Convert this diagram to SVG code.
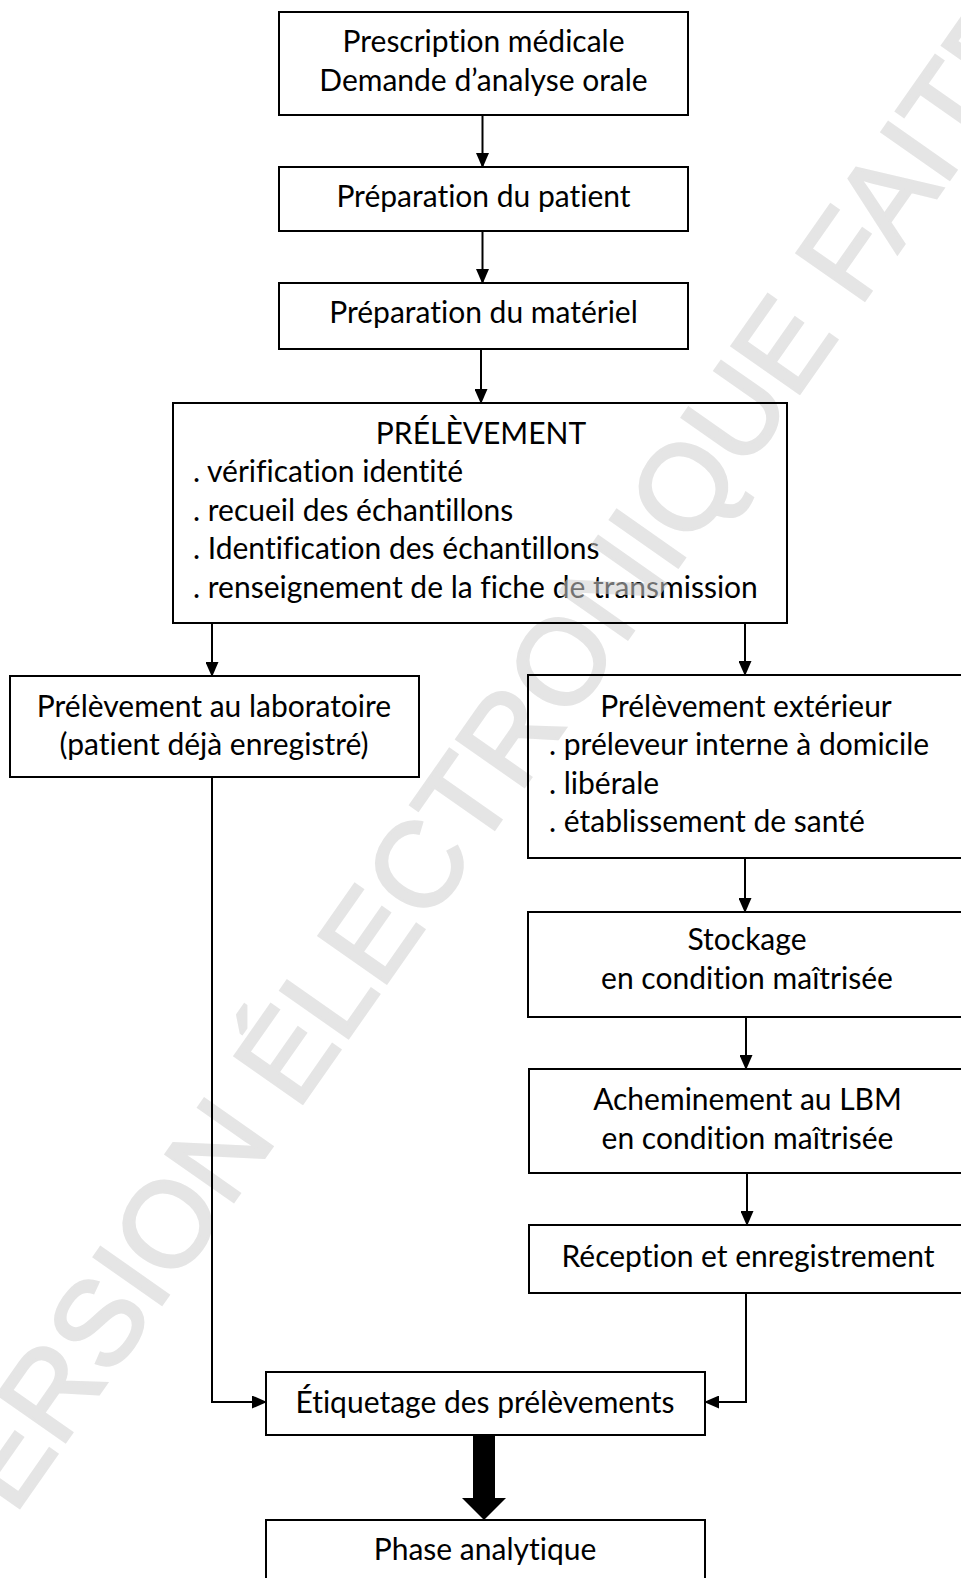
<svg xmlns="http://www.w3.org/2000/svg" xmlns:xlink="http://www.w3.org/1999/xlink" width="961" height="1578" viewBox="0 0 961 1578">
<style>
.box{fill:none;stroke:#000;stroke-width:2}
.t{font-family:Lato,"Liberation Sans",sans-serif;font-size:30px;fill:#000;font-variant-ligatures:none;font-feature-settings:"liga" 0,"dlig" 0}
.c{text-anchor:middle}
.con{fill:none;stroke:#000;stroke-width:2}
.wm{font-family:"Liberation Sans",Arial,sans-serif;font-size:120px;fill:#d0d0d0;stroke:#d0d0d0;stroke-width:3}
</style>
<defs>
<marker id="arr" viewBox="0 0 15 13" refX="13" refY="6.5" markerWidth="15" markerHeight="13" markerUnits="userSpaceOnUse" orient="auto">
<path d="M0,0 L15,6.5 L0,13 z" fill="#000"/>
</marker>
<mask id="wmMask" maskUnits="userSpaceOnUse" x="0" y="0" width="961" height="1578">
<rect width="961" height="1578" fill="#fff"/>
<use href="#r1" xlink:href="#r1"/><use href="#r2" xlink:href="#r2"/><use href="#r3" xlink:href="#r3"/>
<use href="#r4" xlink:href="#r4"/><use href="#r5" xlink:href="#r5"/><use href="#r6" xlink:href="#r6"/>
<use href="#r7" xlink:href="#r7"/><use href="#r8" xlink:href="#r8"/><use href="#r9" xlink:href="#r9"/>
<use href="#r10" xlink:href="#r10"/><use href="#r11" xlink:href="#r11"/>
<use href="#connectors" xlink:href="#connectors"/>
</mask>
</defs>
<rect width="961" height="1578" fill="#fff"/>
<g id="n1"><rect id="r1" class="box" x="279" y="12" width="409" height="103"/>
<text class="t c" x="483.5" y="52">Prescription médicale</text>
<text class="t c" x="483.5" y="90.5">Demande d’analyse orale</text></g>
<g id="n2"><rect id="r2" class="box" x="279" y="167" width="409" height="64"/>
<text class="t c" x="483.5" y="207">Préparation du patient</text></g>
<g id="n3"><rect id="r3" class="box" x="279" y="283" width="409" height="66"/>
<text class="t c" x="483.5" y="323">Préparation du matériel</text></g>
<g id="n4"><rect id="r4" class="box" x="173" y="403" width="614" height="220"/>
<text class="t c" x="481" y="443.5">PRÉLÈVEMENT</text>
<text class="t" x="193" y="482">. vérification identité</text>
<text class="t" x="193" y="520.5">. recueil des échantillons</text>
<text class="t" x="193" y="559">. Identification des échantillons</text>
<text class="t" x="193" y="597.5">. renseignement de la fiche de transmission</text></g>
<g id="n5"><rect id="r5" class="box" x="10" y="676" width="409" height="101"/>
<text class="t c" x="214" y="716.5">Prélèvement au laboratoire</text>
<text class="t c" x="214" y="755">(patient déjà enregistré)</text></g>
<g id="n6"><rect id="r6" class="box" x="528" y="675" width="445" height="183"/>
<text class="t c" x="746" y="716.5">Prélèvement extérieur</text>
<text class="t" x="549" y="755">. préleveur interne à domicile</text>
<text class="t" x="549" y="793.5">. libérale</text>
<text class="t" x="549" y="832">. établissement de santé</text></g>
<g id="n7"><rect id="r7" class="box" x="528" y="912" width="445" height="105"/>
<text class="t c" x="747" y="950">Stockage</text>
<text class="t c" x="747" y="989">en condition maîtrisée</text></g>
<g id="n8"><rect id="r8" class="box" x="529" y="1069" width="444" height="104"/>
<text class="t c" x="747.5" y="1110">Acheminement au LBM</text>
<text class="t c" x="747.5" y="1148.5">en condition maîtrisée</text></g>
<g id="n9"><rect id="r9" class="box" x="529" y="1225" width="444" height="68"/>
<text class="t c" x="748" y="1266.5">Réception et enregistrement</text></g>
<g id="n10"><rect id="r10" class="box" x="266" y="1372" width="439" height="63"/>
<text class="t c" x="485" y="1413">Étiquetage des prélèvements</text></g>
<g id="n11"><rect id="r11" class="box" x="266" y="1520" width="439" height="80"/>
<text class="t c" x="485" y="1560">Phase analytique</text></g>
<g id="connectors">
<path class="con" d="M482.5,115 V166" marker-end="url(#arr)"/>
<path class="con" d="M482.5,231 V282" marker-end="url(#arr)"/>
<path class="con" d="M481,349 V402" marker-end="url(#arr)"/>
<path class="con" d="M212,623 V675" marker-end="url(#arr)"/>
<path class="con" d="M745,623 V674" marker-end="url(#arr)"/>
<path class="con" d="M745,858 V911" marker-end="url(#arr)"/>
<path class="con" d="M746,1017 V1068" marker-end="url(#arr)"/>
<path class="con" d="M747,1173 V1224" marker-end="url(#arr)"/>
<path class="con" d="M212,777 V1402 H265" marker-end="url(#arr)"/>
<path class="con" d="M746,1293 V1402 H706" marker-end="url(#arr)"/>
<path d="M473,1436 H495 V1498 H506 L484,1520 L462,1498 H473 Z" fill="#000"/>
</g>
<g id="watermark" opacity="0.55" mask="url(#wmMask)">
<text class="wm" transform="translate(-32,1581) rotate(-55)">VERSION ÉLECTRONIQUE FAITE</text>
</g>
</svg>
